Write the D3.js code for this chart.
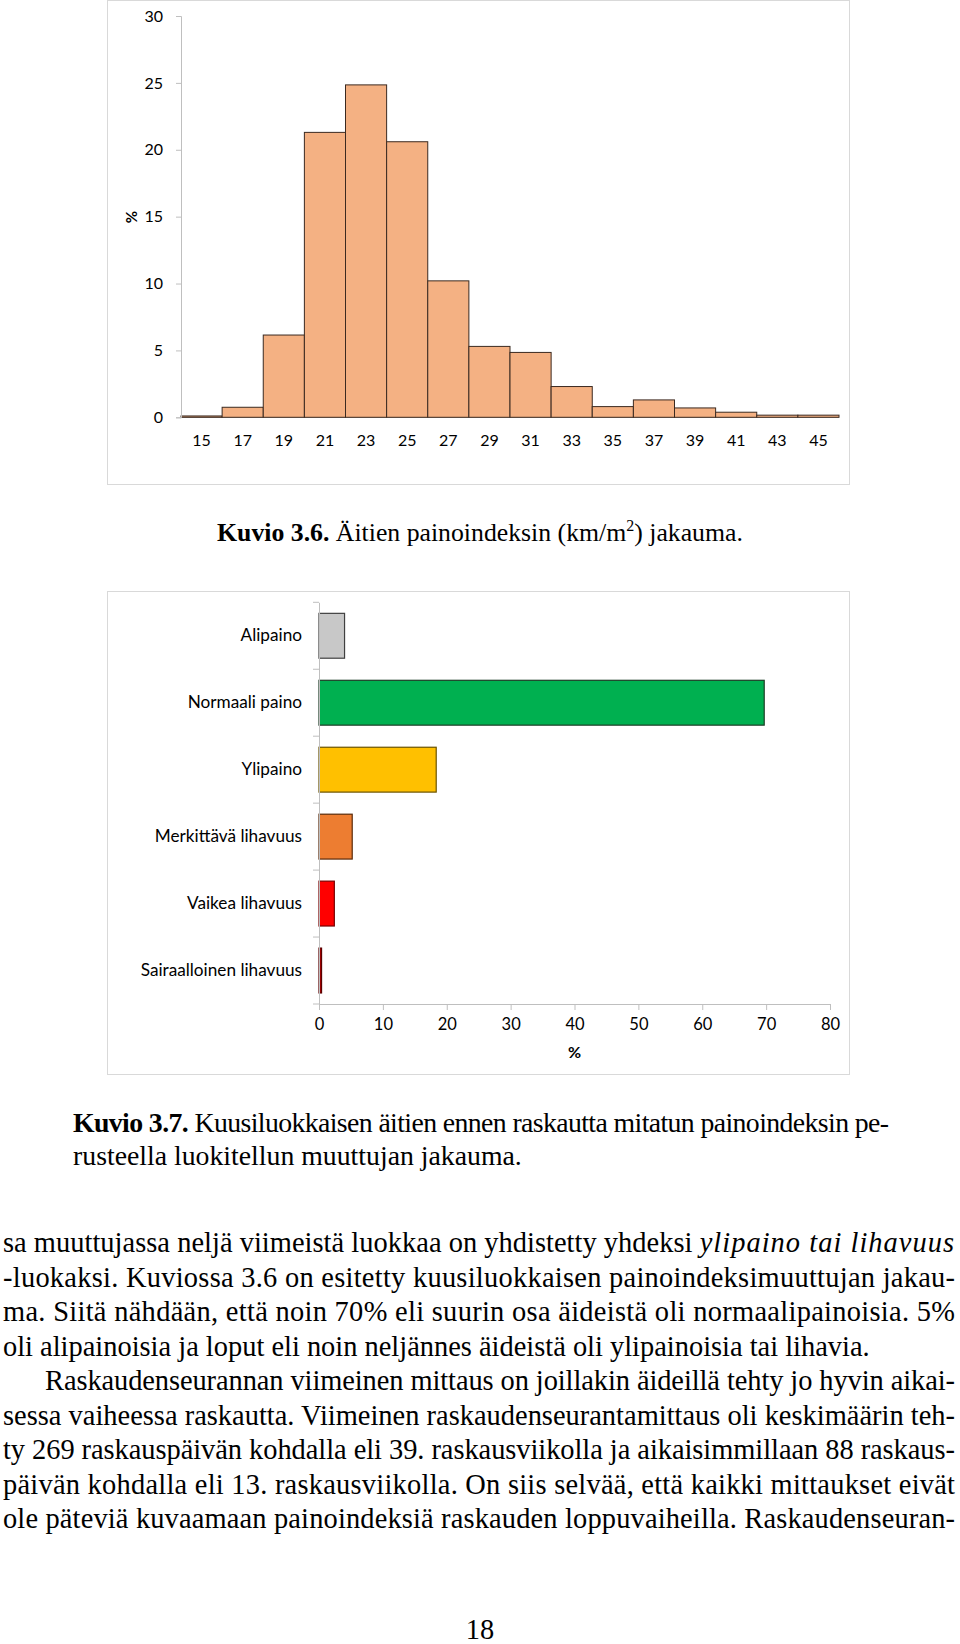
<!DOCTYPE html>
<html>
<head>
<meta charset="utf-8">
<script src="https://cdn.jsdelivr.net/npm/d3@7"></script>
<style>
  body { margin: 0; background: #fff; }
  svg { display: block; }
  .tick text { font-family: Lato, "Open Sans", sans-serif; fill: #000; }
  .serif { font-family: "Liberation Serif", "DejaVu Serif", serif; fill: #000; }
</style>
</head>
<body>
<div id="viz"></div>
<script>
// histogram data (% of mothers by BMI class)
let bmiClasses = ["15","17","19","21","23","25","27","29","31","33","35","37","39","41","43","45"]
let bmiShares = [0.1, 0.75, 6.15, 21.3, 24.85, 20.6, 10.2, 5.3, 4.85, 2.3, 0.8, 1.3, 0.7, 0.38, 0.16, 0.16]
let histTicks = [0, 5, 10, 15, 20, 25, 30]

// six-class variable
let groups = ["Alipaino", "Normaali paino", "Ylipaino", "Merkittävä lihavuus", "Vaikea lihavuus", "Sairaalloinen lihavuus"]
let groupShares = [4.0, 69.7, 18.35, 5.2, 2.4, 0.4]
let groupFill = ["#c8c8c8", "#00b050", "#ffc000", "#ed7d31", "#ff0000", "#a00000"]
let groupStroke = ["#404040", "#1d3d26", "#6b5300", "#5a2a0a", "#7a0000", "#5a0000"]
let barTicks = [0, 10, 20, 30, 40, 50, 60, 70, 80]

// page text
let caption1 = ["Kuvio 3.6.", " Äitien painoindeksin (km/m", "2", ") jakauma."]
let caption2 = [["Kuvio 3.7.", " Kuusiluokkaisen äitien ennen raskautta mitatun painoindeksin pe-"],
                ["", "rusteella luokitellun muuttujan jakauma."]]
let bodyLines = [
  {t: "sa muuttujassa neljä viimeistä luokkaa on yhdistetty yhdeksi ", it: "ylipaino tai lihavuus", j: true},
  {t: "-luokaksi. Kuviossa 3.6 on esitetty kuusiluokkaisen painoindeksimuuttujan jakau-", j: true},
  {t: "ma. Siitä nähdään, että noin 70% eli suurin osa äideistä oli normaalipainoisia. 5%", j: true},
  {t: "oli alipainoisia ja loput eli noin neljännes äideistä oli ylipainoisia tai lihavia.", j: false},
  {t: "Raskaudenseurannan viimeinen mittaus on joillakin äideillä tehty jo hyvin aikai-", j: true, indent: true},
  {t: "sessa vaiheessa raskautta. Viimeinen raskaudenseurantamittaus oli keskimäärin teh-", j: true},
  {t: "ty 269 raskauspäivän kohdalla eli 39. raskausviikolla ja aikaisimmillaan 88 raskaus-", j: true},
  {t: "päivän kohdalla eli 13. raskausviikolla. On siis selvää, että kaikki mittaukset eivät", j: true},
  {t: "ole päteviä kuvaamaan painoindeksiä raskauden loppuvaiheilla. Raskaudenseuran-", j: true}
]
let pageNo = "18"

let svg = d3.select("#viz")
  .append("svg")
    .attr("width", 960)
    .attr("height", 1644)

// scale a text's font so that its natural width hits target
function fitFont(sel, target) {
  let s = +sel.attr("font-size")
  let w = sel.node().getComputedTextLength()
  let ns = s * target / w
  sel.attr("font-size", ns)
  return ns
}

// ---------- chart 1: histogram ----------
svg.append("rect")
    .attr("x", 107.5).attr("y", 0.5)
    .attr("width", 742).attr("height", 484)
    .attr("fill", "none").attr("stroke", "#d9d9d9")

let xHist = d3.scaleBand()
    .domain(bmiClasses)
    .range([181, 839])

let yHist = d3.scaleLinear()
    .domain([0, 30])
    .range([417.3, 16])

svg.append("line")
    .attr("x1", 181).attr("x2", 839)
    .attr("y1", yHist(0)).attr("y2", yHist(0))
    .attr("stroke", "#bfbfbf")

svg.append("g")
    .selectAll("rect")
    .data(bmiShares)
    .join("rect")
      .attr("x", (d, i) => xHist(bmiClasses[i]))
      .attr("y", d => yHist(d))
      .attr("width", xHist.bandwidth())
      .attr("height", d => yHist(0) - yHist(d))
      .attr("fill", "#f4b183")
      .attr("stroke", "#3b2a20")
      .attr("stroke-width", 1)

let yAxisHist = d3.axisLeft(yHist)
    .tickValues(histTicks)
    .tickSize(5)
    .tickPadding(13)

svg.append("g")
    .attr("transform", "translate(181,0)")
    .call(yAxisHist)
    .call(g => g.selectAll(".domain, .tick line").attr("stroke", "#bfbfbf"))
    .call(g => g.selectAll(".tick text").attr("font-size", 16))

let xAxisHist = d3.axisBottom(xHist)
    .tickSize(0)
    .tickPadding(17)

svg.append("g")
    .attr("transform", `translate(0,${yHist(0)})`)
    .call(xAxisHist)
    .call(g => g.select(".domain").remove())
    .call(g => g.selectAll(".tick text").attr("font-size", 16))

svg.append("text")
    .attr("transform", "translate(137,217) rotate(-90)")
    .attr("text-anchor", "middle")
    .attr("font-family", "Lato, sans-serif")
    .attr("font-weight", "bold")
    .attr("font-size", 15)
    .text("%")

// caption 1
let c1 = svg.append("text")
    .attr("class", "serif")
    .attr("x", 480).attr("y", 541)
    .attr("text-anchor", "middle")
    .attr("font-size", 24)
c1.append("tspan").attr("font-weight", "bold").text(caption1[0])
c1.append("tspan").text(caption1[1])
let sup = c1.append("tspan").attr("dy", -10).text(caption1[2])
c1.append("tspan").attr("dy", 10).text(caption1[3])
let c1size = fitFont(c1, 531)
sup.attr("font-size", c1size * 0.62)

// ---------- chart 2: horizontal bars ----------
svg.append("rect")
    .attr("x", 107.5).attr("y", 591.5)
    .attr("width", 742).attr("height", 483)
    .attr("fill", "none").attr("stroke", "#d9d9d9")

let xBar = d3.scaleLinear()
    .domain([0, 80])
    .range([319, 830])

let yBar = d3.scaleBand()
    .domain(groups)
    .range([602.3, 1004])
    .paddingInner(0.33)
    .paddingOuter(0.165)

svg.append("g")
    .selectAll("rect")
    .data(groupShares)
    .join("rect")
      .attr("x", xBar(0))
      .attr("y", (d, i) => yBar(groups[i]))
      .attr("width", d => xBar(d) - xBar(0))
      .attr("height", yBar.bandwidth())
      .attr("fill", (d, i) => groupFill[i])
      .attr("stroke", (d, i) => groupStroke[i])
      .attr("stroke-width", 1.2)

let xAxisBar = d3.axisBottom(xBar)
    .tickValues(barTicks)
    .tickSize(6)
    .tickPadding(8)

svg.append("g")
    .attr("transform", "translate(0,1004)")
    .call(xAxisBar)
    .call(g => g.selectAll(".domain, .tick line").attr("stroke", "#bfbfbf"))
    .call(g => g.selectAll(".tick text").attr("font-size", 16.5))

// y axis: labels at band centres, tick marks at band edges
let yAxisBar = d3.axisLeft(yBar)
    .tickSize(0)
    .tickPadding(17)

svg.append("g")
    .attr("transform", "translate(319,0)")
    .call(yAxisBar)
    .call(g => g.select(".domain").attr("stroke", "#bfbfbf"))
    .call(g => g.selectAll(".tick text").attr("font-size", 17.2))

let step = (1004 - 602.3) / groups.length
svg.append("g")
    .selectAll("line")
    .data(d3.range(groups.length + 1))
    .join("line")
      .attr("x1", 313).attr("x2", 319)
      .attr("y1", i => 602.3 + i * step)
      .attr("y2", i => 602.3 + i * step)
      .attr("stroke", "#bfbfbf")

svg.append("text")
    .attr("x", xBar(40)).attr("y", 1058)
    .attr("text-anchor", "middle")
    .attr("font-family", "Lato, sans-serif")
    .attr("font-weight", "bold")
    .attr("font-size", 16)
    .text("%")

// caption 2
let c2size = 24
caption2.forEach((line, i) => {
  let t = svg.append("text")
      .attr("class", "serif")
      .attr("x", 73).attr("y", 1132 + i * 33)
      .attr("font-size", 24)
  t.append("tspan").attr("font-weight", "bold").text(line[0])
  t.append("tspan").text(line[1])
  if (i == 1) c2size = fitFont(t, 449)
})
svg.selectAll("text.serif").filter((d, i, n) => +d3.select(n[i]).attr("y") >= 1132 && +d3.select(n[i]).attr("y") < 1200)
    .attr("font-size", c2size)
    .filter((d, i) => i == 0)
    .attr("textLength", 816).attr("lengthAdjust", "spacing")

// body text: size from the one unjustified line
let probe = svg.append("text")
    .attr("class", "serif")
    .attr("font-size", 24)
    .text(bodyLines[3].t)
let bodySize = fitFont(probe, 867)
probe.remove()

bodyLines.forEach((line, i) => {
  let x0 = line.indent ? 45 : 3
  let t = svg.append("text")
      .attr("class", "serif")
      .attr("x", x0).attr("y", 1252 + i * 34.5)
      .attr("font-size", bodySize)
  if (line.j) t.attr("textLength", 955 - x0).attr("lengthAdjust", "spacing")
  t.append("tspan").text(line.t)
  if (line.it) t.append("tspan").attr("font-style", "italic").attr("letter-spacing", 1).text(line.it)
})

svg.append("text")
    .attr("class", "serif")
    .attr("x", 480).attr("y", 1639)
    .attr("text-anchor", "middle")
    .attr("font-size", bodySize)
    .text(pageNo)
</script>
</body>
</html>
